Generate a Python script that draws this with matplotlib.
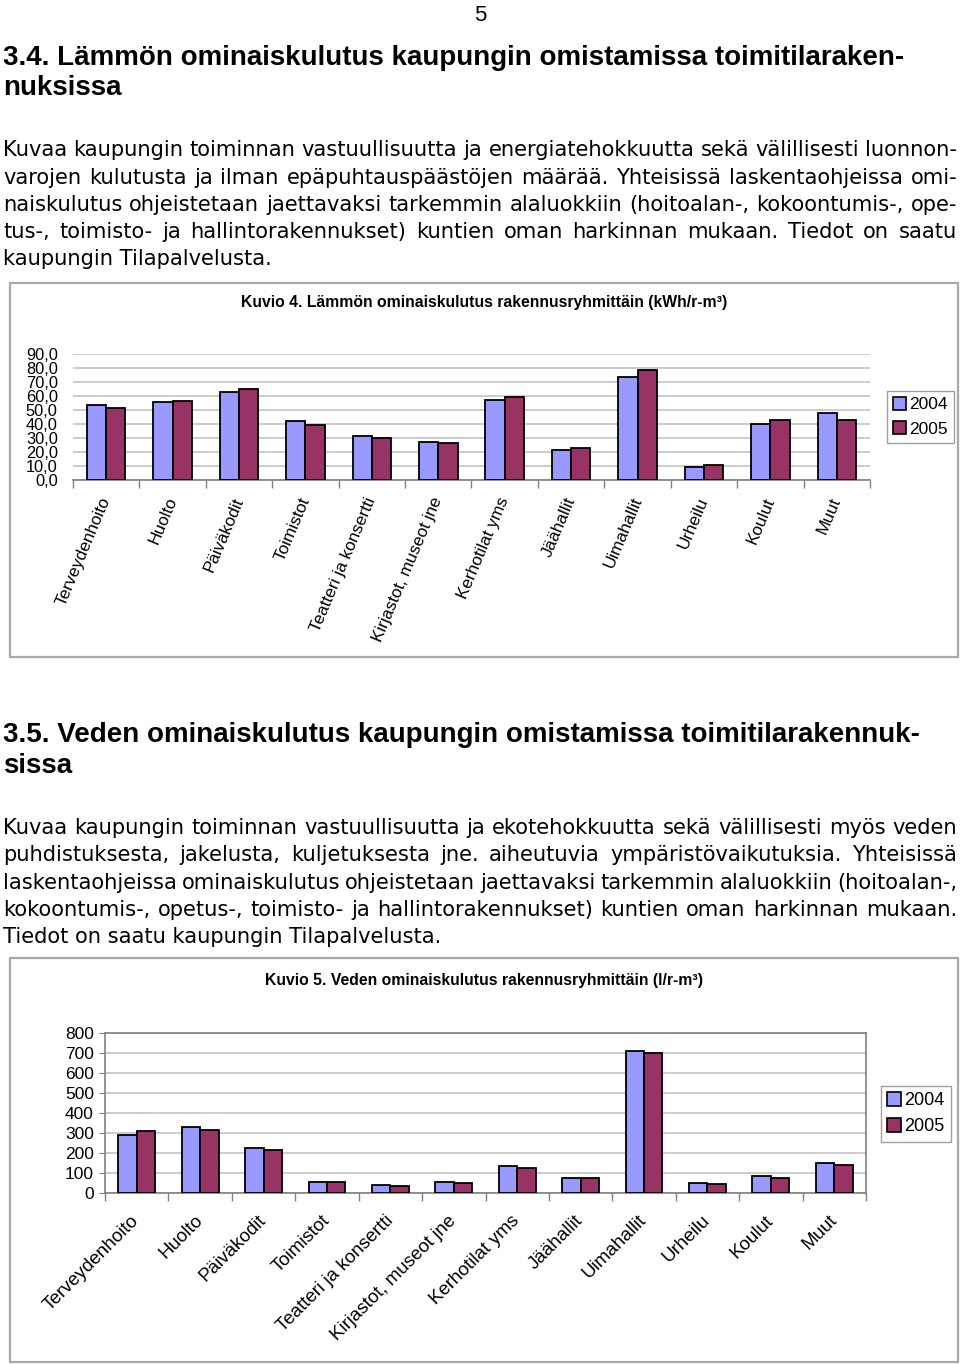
import numpy as np
import matplotlib
matplotlib.use('Agg')
import matplotlib.pyplot as plt
from matplotlib import font_manager
from matplotlib.patches import Rectangle, Patch

# rakennusryhmät
categories = ['Terveydenhoito', 'Huolto', 'Päiväkodit', 'Toimistot',
              'Teatteri ja konsertti', 'Kirjastot, museot jne', 'Kerhotilat yms',
              'Jäähallit', 'Uimahallit', 'Urheilu', 'Koulut', 'Muut']
years = ['2004', '2005']

# Kuvio 4, kWh/r-m3
heat_2004 = [53.6, 56.0, 62.9, 42.3, 31.6, 26.8, 57.2, 21.1, 73.9, 9.1, 40.2, 48.1]
heat_2005 = [51.7, 56.5, 64.8, 39.5, 29.7, 26.3, 59.1, 23.0, 78.9, 10.5, 43.1, 42.6]
heat_ticks = [0, 10, 20, 30, 40, 50, 60, 70, 80, 90]

# Kuvio 5, l/r-m3
water_2004 = [292, 330, 223, 57, 42, 57, 133, 73, 712, 48, 83, 148]
water_2005 = [310, 315, 217, 53, 35, 52, 125, 75, 698, 45, 77, 138]
water_ticks = [0, 100, 200, 300, 400, 500, 600, 700, 800]

heading1 = ['3.4. Lämmön ominaiskulutus kaupungin omistamissa toimitilaraken-', 'nuksissa']
para1 = ['Kuvaa kaupungin toiminnan vastuullisuutta ja energiatehokkuutta sekä välillisesti luonnon-',
         'varojen kulutusta ja ilman epäpuhtauspäästöjen määrää. Yhteisissä laskentaohjeissa omi-',
         'naiskulutus ohjeistetaan jaettavaksi tarkemmin alaluokkiin (hoitoalan-, kokoontumis-, ope-',
         'tus-, toimisto- ja hallintorakennukset) kuntien oman harkinnan mukaan. Tiedot on saatu',
         'kaupungin Tilapalvelusta.']
heading2 = ['3.5. Veden ominaiskulutus kaupungin omistamissa toimitilarakennuk-', 'sissa']
para2 = ['Kuvaa kaupungin toiminnan vastuullisuutta ja ekotehokkuutta sekä välillisesti myös veden',
         'puhdistuksesta, jakelusta, kuljetuksesta jne. aiheutuvia ympäristövaikutuksia. Yhteisissä',
         'laskentaohjeissa ominaiskulutus ohjeistetaan jaettavaksi tarkemmin alaluokkiin (hoitoalan-,',
         'kokoontumis-, opetus-, toimisto- ja hallintorakennukset) kuntien oman harkinnan mukaan.',
         'Tiedot on saatu kaupungin Tilapalvelusta.']
title4 = 'Kuvio 4. Lämmön ominaiskulutus rakennusryhmittäin (kWh/r-m³)'
title5 = 'Kuvio 5. Veden ominaiskulutus rakennusryhmittäin (l/r-m³)'

c04 = '#9999FF'
c05 = '#993366'
ARIAL = 'Liberation Sans'
BODY = 'DejaVu Sans'
names = {f.name for f in font_manager.fontManager.ttflist}
HEAD = 'Liberation Sans Narrow' if 'Liberation Sans Narrow' in names else ARIAL

W, H = 960, 1364
fig = plt.figure(figsize=(9.6, 13.64), dpi=100)
page = fig.add_axes([0, 0, 1, 1])
page.set_xlim(0, W)
page.set_ylim(H, 0)
page.axis('off')
renderer = fig.canvas.get_renderer()


def fit_text(x, y, s, width, ha='left', **kw):
    t = page.text(x, y, s, ha=ha, va='baseline', fontsize=20, **kw)
    w = t.get_window_extent(renderer).width
    t.set_fontsize(20 * width / w)
    return t


def paragraph(lines, y0, dy, x0=3, x1=957, size=15.1):
    for i, line in enumerate(lines):
        y = y0 + i * dy
        if i == len(lines) - 1:
            page.text(x0, y, line, va='baseline', fontsize=size, family=BODY)
            continue
        words = line.split(' ')
        ts = [page.text(x0, y, w, va='baseline', fontsize=size, family=BODY) for w in words]
        widths = [t.get_window_extent(renderer).width for t in ts]
        gap = (x1 - x0 - sum(widths)) / (len(ts) - 1)
        x = x0
        for t, w in zip(ts, widths):
            t.set_x(x)
            x += w + gap


page.text(480, 21, '5', ha='center', va='baseline', fontsize=16, family=ARIAL)

h = fit_text(3, 65, heading1[0], 902, family=HEAD, weight='bold')
page.text(3, 95, heading1[1], va='baseline', fontsize=h.get_fontsize(), family=HEAD, weight='bold')
paragraph(para1, 156.5, 27.2)

h = fit_text(3, 742, heading2[0], 918, family=HEAD, weight='bold')
page.text(3, 773, heading2[1], va='baseline', fontsize=h.get_fontsize(), family=HEAD, weight='bold')
paragraph(para2, 834, 27.3)

# kaavioiden kehykset
page.add_patch(Rectangle((10, 283), 948, 374, fill=False, edgecolor='#A8A8A8', lw=1.6))
page.add_patch(Rectangle((10, 958), 948, 404, fill=False, edgecolor='#A8A8A8', lw=1.6))
fit_text(484, 307, title4, 486, ha='center', family=ARIAL, weight='bold')
fit_text(484, 985, title5, 438, ha='center', family=ARIAL, weight='bold')


def bar_chart(l, r, t, b, v04, v05, ticks, fmt, rot, xpad, xsize, ysize, boxed, leg_xy, leg_size):
    ax = fig.add_axes([l / W, 1 - b / H, (r - l) / W, (b - t) / H])
    x = np.arange(len(categories))
    bw = 0.29
    ax.bar(x - bw / 2, v04, bw, color=c04, edgecolor='black', lw=1.3, zorder=3)
    ax.bar(x + bw / 2, v05, bw, color=c05, edgecolor='black', lw=1.3, zorder=3)
    ax.set_xlim(-0.5, len(categories) - 0.5)
    ax.set_ylim(ticks[0], ticks[-1])
    ax.set_yticks(ticks)
    ax.set_yticklabels([fmt(v) for v in ticks], fontsize=ysize, family=ARIAL)
    ax.yaxis.grid(True, color='#BFBFBF', lw=1.1, zorder=0)
    ax.set_xticks(x)
    ax.set_xticklabels(categories, rotation=rot, rotation_mode='anchor',
                       ha='right', va='center', fontsize=xsize, family=ARIAL)
    ax.set_xticks(np.arange(len(categories) + 1) - 0.5, minor=True)
    ax.tick_params(axis='x', which='major', length=0, pad=xpad)
    ax.tick_params(axis='x', which='minor', length=6, color='#808080', width=1)
    for s in ['top', 'right', 'left']:
        ax.spines[s].set_visible(boxed)
        ax.spines[s].set_color('#808080')
        ax.spines[s].set_linewidth(1.2)
    ax.spines['bottom'].set_color('#808080')
    ax.spines['bottom'].set_linewidth(1.2)
    if boxed:
        ax.tick_params(axis='y', length=4, color='#808080', pad=4)
    else:
        ax.tick_params(axis='y', length=0, pad=11)
    handles = [Patch(facecolor=c04, edgecolor='black', lw=1.2, label=years[0]),
               Patch(facecolor=c05, edgecolor='black', lw=1.2, label=years[1])]
    leg = ax.legend(handles=handles, loc='upper left',
                    bbox_to_anchor=(leg_xy[0] / W, 1 - leg_xy[1] / H),
                    bbox_transform=fig.transFigure, borderaxespad=0,
                    fancybox=False, framealpha=1, edgecolor='#A0A0A0',
                    handlelength=0.75, handleheight=0.75, handletextpad=0.2,
                    labelspacing=0.5, borderpad=0.35,
                    prop={'family': ARIAL, 'size': leg_size})
    leg.get_frame().set_linewidth(1.0)
    return ax


bar_chart(73, 870, 354, 480, heat_2004, heat_2005, heat_ticks,
          lambda v: f'{v:.1f}'.replace('.', ','), 67, 13, 12.3, 11.8, False,
          (887, 391), 12.5)
bar_chart(105, 866, 1033, 1193, water_2004, water_2005, water_ticks,
          lambda v: str(v), 45, 18, 13.5, 12.5, True,
          (881, 1086), 13)

fig.savefig('out.png', dpi=100, facecolor='white')
